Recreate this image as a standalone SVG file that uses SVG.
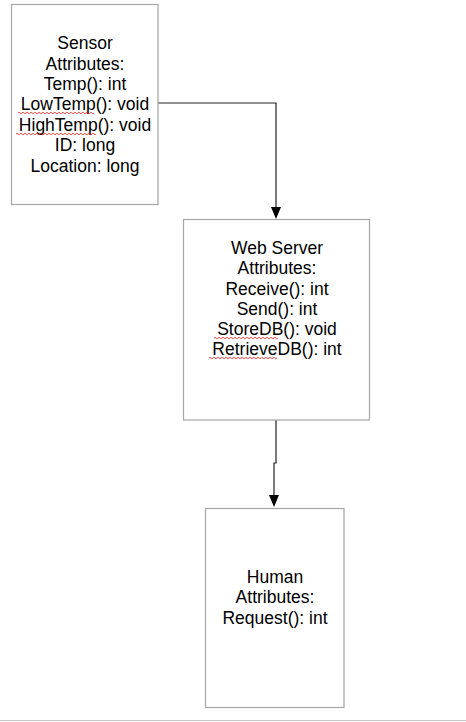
<svg xmlns="http://www.w3.org/2000/svg" width="466" height="722" viewBox="0 0 466 722">
<style>
.box{fill:#fff;stroke:#a6a6a6;stroke-width:1.2}
.t{font-family:"Liberation Sans",Arial,sans-serif;font-size:17.5px;fill:#000;text-anchor:middle}
.con{fill:none;stroke:#222;stroke-width:1.2}
.head{fill:#000}
.sq{fill:none;stroke:#e02020;stroke-width:0.8}
</style>
<rect width="466" height="722" fill="#fff"/>
<line x1="0" y1="720.5" x2="466" y2="720.5" stroke="#c8c8c8" stroke-width="1"/>
<g id="connectors">
<path class="con" d="M158,103 H276 V208"/>
<path class="head" d="M271,207 L281,207 L276,219 Z"/>
<path class="con" d="M276,420 V463 H274 V497"/>
<path class="head" d="M269,495 L279,495 L274,507 Z"/>
</g>
<g id="sensor">
<rect class="box" x="11.5" y="4.5" width="146.5" height="200"/>
<text class="t" x="85" y="49">Sensor</text>
<text class="t" x="85" y="69.5">Attributes:</text>
<text class="t" x="85" y="90">Temp(): int</text>
<text class="t" x="85" y="110">LowTemp(): void</text>
<text class="t" x="85" y="130.5">HighTemp(): void</text>
<text class="t" x="85" y="151">ID: long</text>
<text class="t" x="85" y="171.5">Location: long</text>
<path class="sq" d="M18,113 q1,-1.5 2,0 t2,0 t2,0 t2,0 t2,0 t2,0 t2,0 t2,0 t2,0 t2,0 t2,0 t2,0 t2,0 t2,0 t2,0 t2,0 t2,0 t2,0 t2,0 t2,0 t2,0 t2,0 t2,0 t2,0 t2,0 t2,0 t2,0 t2,0 t2,0 t2,0 t2,0 t2,0 t2,0 t2,0 t2,0 t2,0 t2,0 t2,0"/>
<path class="sq" d="M16,134 q1,-1.5 2,0 t2,0 t2,0 t2,0 t2,0 t2,0 t2,0 t2,0 t2,0 t2,0 t2,0 t2,0 t2,0 t2,0 t2,0 t2,0 t2,0 t2,0 t2,0 t2,0 t2,0 t2,0 t2,0 t2,0 t2,0 t2,0 t2,0 t2,0 t2,0 t2,0 t2,0 t2,0 t2,0 t2,0 t2,0 t2,0 t2,0 t2,0 t2,0 t2,0"/>
</g>
<g id="webserver">
<rect class="box" x="183.5" y="219.5" width="186" height="200.5"/>
<text class="t" x="277" y="254">Web Server</text>
<text class="t" x="277" y="274">Attributes:</text>
<text class="t" x="277" y="294.5">Receive(): int</text>
<text class="t" x="277" y="314.5">Send(): int</text>
<text class="t" x="277" y="335">StoreDB(): void</text>
<text class="t" x="277" y="355">RetrieveDB(): int</text>
<path class="sq" d="M214,338 q1,-1.5 2,0 t2,0 t2,0 t2,0 t2,0 t2,0 t2,0 t2,0 t2,0 t2,0 t2,0 t2,0 t2,0 t2,0 t2,0 t2,0 t2,0 t2,0 t2,0 t2,0 t2,0 t2,0 t2,0 t2,0 t2,0 t2,0 t2,0 t2,0 t2,0 t2,0 t2,0 t2,0"/>
<path class="sq" d="M209,358 q1,-1.5 2,0 t2,0 t2,0 t2,0 t2,0 t2,0 t2,0 t2,0 t2,0 t2,0 t2,0 t2,0 t2,0 t2,0 t2,0 t2,0 t2,0 t2,0 t2,0 t2,0 t2,0 t2,0 t2,0 t2,0 t2,0 t2,0 t2,0 t2,0 t2,0 t2,0 t2,0 t2,0 t2,0 t2,0"/>
</g>
<g id="human">
<rect class="box" x="205.5" y="508.5" width="138.5" height="199"/>
<text class="t" x="275" y="583">Human</text>
<text class="t" x="275" y="603">Attributes:</text>
<text class="t" x="275" y="624">Request(): int</text>
</g>
</svg>
